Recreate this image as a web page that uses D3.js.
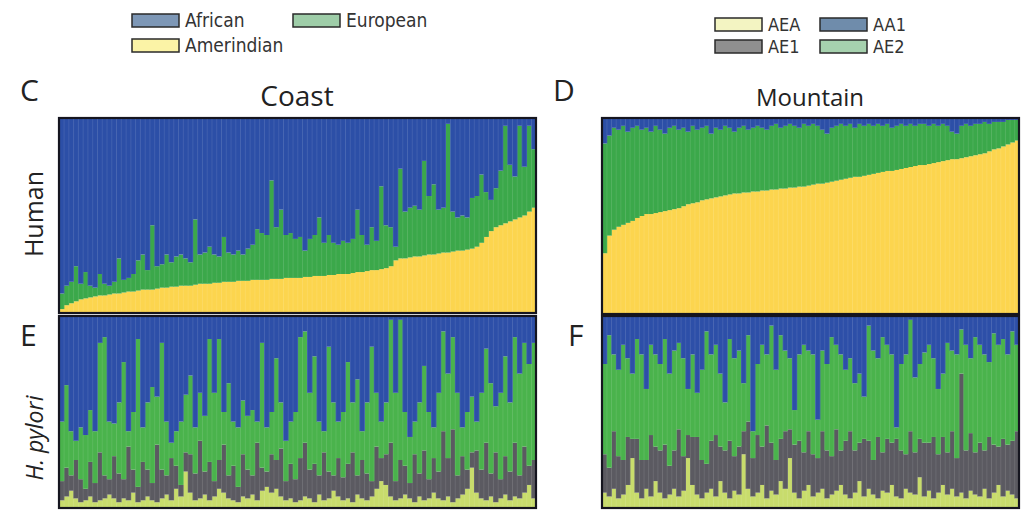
<!DOCTYPE html>
<html>
<head>
<meta charset="utf-8">
<script src="https://cdnjs.cloudflare.com/ajax/libs/d3/7.8.5/d3.min.js"></script>
<style>
  body { margin: 0; background: #fff; }
  svg { display: block; }
  .lbl { font-family: "Open Sans", "Noto Sans", sans-serif; fill: #222; }
  .leg { font-family: "Liberation Sans Narrow", "DejaVu Sans Condensed", sans-serif; fill: #333; }
</style>
</head>
<body>
<svg id="chart" width="1021" height="510"></svg>
<script>
// ---- data: ancestry proportions per individual (fractions of 1) ----

// Human, coast: Amerindian (bottom) and European; African is the rest
var coastAmerindian = [0.02,0.04,0.05,0.06,0.07,0.075,0.08,0.085,0.09,0.09,0.095,
  0.10,0.10,0.105,0.11,0.11,0.115,0.12,0.12,0.12,0.125,
  0.13,0.13,0.135,0.135,0.14,0.14,0.14,0.145,0.15,0.15,
  0.15,0.155,0.155,0.16,0.16,0.16,0.165,0.165,0.165,0.17,
  0.17,0.17,0.17,0.175,0.175,0.175,0.18,0.18,0.18,0.18,
  0.185,0.185,0.19,0.19,0.19,0.195,0.195,0.20,0.20,0.20,
  0.205,0.21,0.21,0.215,0.22,0.22,0.225,0.23,0.24,0.27,
  0.28,0.28,0.285,0.29,0.29,0.295,0.30,0.30,0.305,0.31,
  0.31,0.315,0.32,0.32,0.325,0.33,0.34,0.36,0.39,0.42,
  0.44,0.45,0.46,0.47,0.48,0.49,0.50,0.52,0.54];
var coastEuropean = [0.08,0.10,0.11,0.18,0.08,0.135,0.06,0.045,0.11,0.06,0.045,
  0.06,0.18,0.065,0.07,0.09,0.155,0.18,0.10,0.33,0.115,
  0.12,0.17,0.125,0.155,0.16,0.14,0.12,0.335,0.15,0.16,
  0.19,0.145,0.135,0.23,0.15,0.14,0.155,0.135,0.165,0.18,
  0.26,0.24,0.23,0.505,0.265,0.355,0.22,0.23,0.20,0.21,
  0.135,0.195,0.21,0.30,0.17,0.205,0.165,0.15,0.17,0.16,
  0.175,0.32,0.19,0.135,0.22,0.15,0.425,0.22,0.20,0.07,
  0.46,0.24,0.255,0.26,0.24,0.485,0.30,0.36,0.225,0.23,
  0.66,0.205,0.17,0.18,0.165,0.26,0.26,0.35,0.23,0.16,
  0.20,0.28,0.50,0.29,0.22,0.47,0.25,0.44,0.30];

// Human, mountain
var mountAmerindian = [0.31,0.40,0.43,0.445,0.455,0.465,0.475,0.49,0.50,0.51,
  0.51,0.515,0.52,0.525,0.53,0.535,0.54,0.55,0.56,0.565,
  0.57,0.58,0.585,0.59,0.595,0.60,0.605,0.61,0.615,0.615,
  0.62,0.62,0.625,0.625,0.63,0.63,0.635,0.635,0.64,0.64,
  0.645,0.645,0.65,0.65,0.655,0.66,0.665,0.665,0.67,0.675,
  0.68,0.685,0.69,0.695,0.70,0.70,0.705,0.71,0.715,0.72,
  0.725,0.73,0.73,0.735,0.74,0.745,0.75,0.755,0.76,0.76,
  0.765,0.77,0.775,0.78,0.785,0.79,0.79,0.795,0.80,0.805,
  0.81,0.815,0.82,0.83,0.84,0.845,0.855,0.865,0.875,0.885];
var mountEuropean = [0.56,0.51,0.52,0.495,0.505,0.465,0.475,0.47,0.44,0.44,
  0.42,0.445,0.42,0.395,0.42,0.425,0.40,0.40,0.37,0.395,
  0.37,0.37,0.375,0.33,0.355,0.34,0.355,0.34,0.315,0.335,
  0.34,0.32,0.325,0.335,0.32,0.31,0.325,0.335,0.31,0.32,
  0.325,0.315,0.30,0.32,0.305,0.31,0.295,0.275,0.25,0.275,
  0.28,0.285,0.27,0.275,0.25,0.27,0.255,0.26,0.245,0.25,
  0.235,0.24,0.22,0.225,0.23,0.215,0.22,0.205,0.21,0.21,
  0.195,0.20,0.185,0.19,0.175,0.14,0.13,0.165,0.17,0.155,
  0.16,0.155,0.16,0.14,0.14,0.135,0.125,0.125,0.115,0.105];

// H. pylori, coast: AEA (bottom), AE1, AE2; AA1 is the rest
var coastAEA = [0.04,0.06,0.09,0.05,0.03,0.04,0.06,0.03,0.04,0.05,
  0.07,0.05,0.03,0.05,0.04,0.08,0.03,0.04,0.06,0.04,
  0.03,0.05,0.07,0.04,0.10,0.06,0.19,0.08,0.04,0.05,
  0.07,0.04,0.06,0.10,0.08,0.05,0.04,0.03,0.06,0.05,
  0.07,0.04,0.09,0.11,0.08,0.10,0.06,0.04,0.05,0.03,
  0.04,0.06,0.05,0.03,0.07,0.04,0.05,0.09,0.06,0.04,
  0.05,0.03,0.07,0.05,0.04,0.06,0.10,0.14,0.12,0.06,
  0.04,0.05,0.07,0.05,0.03,0.06,0.04,0.05,0.08,0.05,
  0.04,0.06,0.03,0.05,0.07,0.10,0.21,0.08,0.05,0.04,
  0.06,0.03,0.05,0.07,0.04,0.06,0.05,0.08,0.12,0.05];
var coastAE1 = [0.10,0.15,0.08,0.20,0.12,0.06,0.18,0.10,0.25,0.12,
  0.08,0.22,0.15,0.10,0.28,0.12,0.08,0.20,0.14,0.09,
  0.30,0.15,0.10,0.22,0.12,0.06,0.10,0.20,0.14,0.30,
  0.12,0.20,0.08,0.15,0.25,0.12,0.18,0.08,0.22,0.15,
  0.10,0.30,0.12,0.08,0.20,0.15,0.25,0.10,0.18,0.12,
  0.22,0.28,0.15,0.20,0.10,0.25,0.14,0.08,0.20,0.12,
  0.18,0.26,0.10,0.20,0.14,0.08,0.22,0.12,0.16,0.28,
  0.10,0.20,0.15,0.08,0.25,0.12,0.26,0.10,0.18,0.14,
  0.36,0.20,0.38,0.12,0.20,0.10,0.08,0.22,0.15,0.30,
  0.12,0.26,0.10,0.20,0.15,0.28,0.12,0.24,0.10,0.20];
var coastAE2 = [0.31,0.43,0.23,0.10,0.27,0.28,0.27,0.27,0.57,0.72,
  0.30,0.17,0.37,0.61,0.08,0.30,0.77,0.18,0.35,0.50,
  0.25,0.66,0.28,0.08,0.18,0.33,0.30,0.41,0.24,0.25,
  0.29,0.64,0.46,0.63,0.17,0.48,0.23,0.31,0.28,0.28,
  0.34,0.11,0.65,0.23,0.22,0.53,0.24,0.21,0.22,0.35,
  0.63,0.58,0.40,0.56,0.28,0.11,0.65,0.38,0.19,0.34,
  0.53,0.26,0.50,0.15,0.37,0.70,0.28,0.19,0.27,0.64,
  0.46,0.73,0.28,0.24,0.17,0.37,0.44,0.35,0.16,0.41,
  0.52,0.44,0.48,0.43,0.15,0.30,0.29,0.15,0.40,0.49,
  0.47,0.24,0.45,0.52,0.36,0.55,0.53,0.54,0.53,0.61];

// H. pylori, mountain
var mountAEA = [0.08,0.06,0.10,0.05,0.07,0.12,0.26,0.08,0.05,0.10,
  0.06,0.14,0.08,0.05,0.07,0.10,0.06,0.09,0.26,0.12,
  0.07,0.05,0.08,0.10,0.06,0.14,0.08,0.05,0.09,0.07,
  0.28,0.10,0.06,0.08,0.12,0.05,0.09,0.07,0.14,0.10,
  0.26,0.08,0.05,0.09,0.12,0.06,0.08,0.10,0.05,0.07,
  0.09,0.12,0.07,0.05,0.08,0.14,0.06,0.10,0.07,0.05,
  0.09,0.08,0.12,0.06,0.05,0.10,0.08,0.07,0.16,0.06,
  0.09,0.05,0.08,0.12,0.07,0.10,0.06,0.08,0.05,0.09,
  0.07,0.06,0.10,0.05,0.08,0.12,0.06,0.09,0.07,0.05];
var mountAE1 = [0.20,0.15,0.30,0.22,0.18,0.25,0.10,0.28,0.20,0.15,
  0.32,0.18,0.22,0.28,0.15,0.20,0.35,0.18,0.12,0.25,
  0.30,0.20,0.15,0.25,0.32,0.18,0.22,0.30,0.18,0.25,
  0.12,0.35,0.20,0.30,0.20,0.38,0.25,0.18,0.22,0.30,
  0.15,0.25,0.30,0.20,0.28,0.22,0.18,0.30,0.25,0.20,
  0.32,0.18,0.28,0.35,0.22,0.20,0.30,0.25,0.18,0.32,
  0.20,0.28,0.22,0.30,0.25,0.18,0.32,0.22,0.20,0.28,
  0.25,0.32,0.20,0.25,0.22,0.30,0.20,0.62,0.25,0.30,
  0.22,0.28,0.20,0.32,0.25,0.20,0.30,0.24,0.28,0.35];
var mountAE2 = [0.47,0.69,0.40,0.45,0.60,0.41,0.34,0.52,0.55,0.37,
  0.47,0.48,0.45,0.55,0.48,0.52,0.45,0.51,0.24,0.43,
  0.23,0.47,0.69,0.45,0.47,0.38,0.25,0.53,0.51,0.50,
  0.25,0.45,0.14,0.37,0.53,0.37,0.61,0.47,0.54,0.42,
  0.37,0.18,0.45,0.56,0.42,0.52,0.20,0.42,0.45,0.62,
  0.44,0.50,0.37,0.38,0.35,0.36,0.22,0.60,0.57,0.41,
  0.60,0.49,0.46,0.06,0.45,0.52,0.58,0.39,0.39,0.47,
  0.51,0.41,0.34,0.33,0.57,0.42,0.54,0.23,0.55,0.39,
  0.60,0.51,0.50,0.39,0.58,0.53,0.52,0.47,0.57,0.45];

var humanKeys = ["Amerindian", "European", "African"];
var pyloriKeys = ["AEA", "AE1", "AE2", "AA1"];

var barColors = {
  Amerindian: "#fcd54e", European: "#3ba84a", African: "#2c4fa7",
  AEA: "#c8dc6c", AE1: "#5b5a61", AE2: "#4ab34c", AA1: "#2d4fa8"
};
var legendColors = {
  African: "#7d97b6", European: "#9ecda8", Amerindian: "#fbf3a6",
  AEA: "#f3f4c2", AA1: "#6f8cab", AE1: "#8f8f8f", AE2: "#a6d1ae"
};

function humanRows(amer, euro) {
  return amer.map(function (a, i) {
    return { Amerindian: a, European: euro[i], African: Math.max(0, 1 - a - euro[i]) };
  });
}
function pyloriRows(aea, ae1, ae2) {
  return aea.map(function (a, i) {
    return { AEA: a, AE1: ae1[i], AE2: ae2[i], AA1: Math.max(0, 1 - a - ae1[i] - ae2[i]) };
  });
}

var svg = d3.select("#chart");

function drawPanel(rows, keys, box) {
  var x = d3.scaleBand().domain(d3.range(rows.length)).range([box.x0, box.x1]).padding(0);
  var y = d3.scaleLinear().domain([0, 1]).range([box.y1, box.y0]);
  var stacked = d3.stack().keys(keys)(rows);

  var g = svg.append("g");
  g.selectAll("g.layer")
    .data(stacked)
    .enter()
    .append("g")
    .attr("fill", function (s) { return barColors[s.key]; })
    .selectAll("rect")
    .data(function (s) { return s; })
    .enter()
    .append("rect")
    .attr("x", function (d, i) { return x(i); })
    .attr("width", x.bandwidth() + 0.6)
    .attr("y", function (d) { return y(d[1]); })
    .attr("height", function (d) { return Math.max(0, y(d[0]) - y(d[1])); });

  // faint separators between individuals
  g.selectAll("line.sep")
    .data(d3.range(1, rows.length))
    .enter()
    .append("line")
    .attr("x1", function (i) { return x(i) + 0.3; })
    .attr("x2", function (i) { return x(i) + 0.3; })
    .attr("y1", box.y0)
    .attr("y2", box.y1)
    .attr("stroke", "rgba(255,255,255,0.13)")
    .attr("stroke-width", 0.8);

  g.append("rect")
    .attr("x", box.x0).attr("y", box.y0)
    .attr("width", box.x1 - box.x0).attr("height", box.y1 - box.y0)
    .attr("fill", "none").attr("stroke", "#15151f").attr("stroke-width", 2.2);
}

drawPanel(humanRows(coastAmerindian, coastEuropean), humanKeys, { x0: 59, x1: 536, y0: 118, y1: 313 });
drawPanel(humanRows(mountAmerindian, mountEuropean), humanKeys, { x0: 602, x1: 1019, y0: 118, y1: 314 });
drawPanel(pyloriRows(coastAEA, coastAE1, coastAE2), pyloriKeys, { x0: 59, x1: 536, y0: 316, y1: 508 });
drawPanel(pyloriRows(mountAEA, mountAE1, mountAE2), pyloriKeys, { x0: 602, x1: 1019, y0: 316, y1: 508 });

// panel letters and titles
var letters = [["C", 20, 101], ["D", 553, 101], ["E", 20, 346], ["F", 568, 346]];
svg.selectAll("text.letter")
  .data(letters)
  .enter()
  .append("text")
  .attr("class", "lbl")
  .attr("x", function (d) { return d[1]; })
  .attr("y", function (d) { return d[2]; })
  .attr("font-size", 30)
  .text(function (d) { return d[0]; });

svg.append("text").attr("class", "lbl").attr("x", 297).attr("y", 106)
  .attr("text-anchor", "middle").attr("font-size", 28).text("Coast");
svg.append("text").attr("class", "lbl").attr("x", 810).attr("y", 106)
  .attr("text-anchor", "middle").attr("font-size", 24).text("Mountain");

svg.append("text").attr("class", "lbl")
  .attr("transform", "translate(43,214) rotate(-90)")
  .attr("text-anchor", "middle").attr("font-size", 25).text("Human");
svg.append("text").attr("class", "lbl")
  .attr("transform", "translate(43,438) rotate(-90)")
  .attr("text-anchor", "middle").attr("font-size", 23).attr("font-style", "italic").text("H. pylori");

// legends
var humanLegend = [
  { key: "African", x: 132, y: 14 },
  { key: "European", x: 293, y: 14 },
  { key: "Amerindian", x: 132, y: 39 }
];
var pyloriLegend = [
  { key: "AEA", x: 715, y: 18 },
  { key: "AA1", x: 820, y: 18 },
  { key: "AE1", x: 715, y: 40 },
  { key: "AE2", x: 820, y: 40 }
];

function drawLegend(items, fontSize) {
  var lg = svg.selectAll(null).data(items).enter().append("g")
    .attr("transform", function (d) { return "translate(" + d.x + "," + d.y + ")"; });
  lg.append("rect")
    .attr("width", 47).attr("height", 13)
    .attr("fill", function (d) { return legendColors[d.key]; })
    .attr("stroke", "#2a2a2a").attr("stroke-width", 1.5);
  lg.append("text")
    .attr("class", "leg")
    .attr("x", 53).attr("y", 13)
    .attr("font-size", fontSize)
    .text(function (d) { return d.key; });
}
drawLegend(humanLegend, 19);
drawLegend(pyloriLegend, 18);
</script>
</body>
</html>
